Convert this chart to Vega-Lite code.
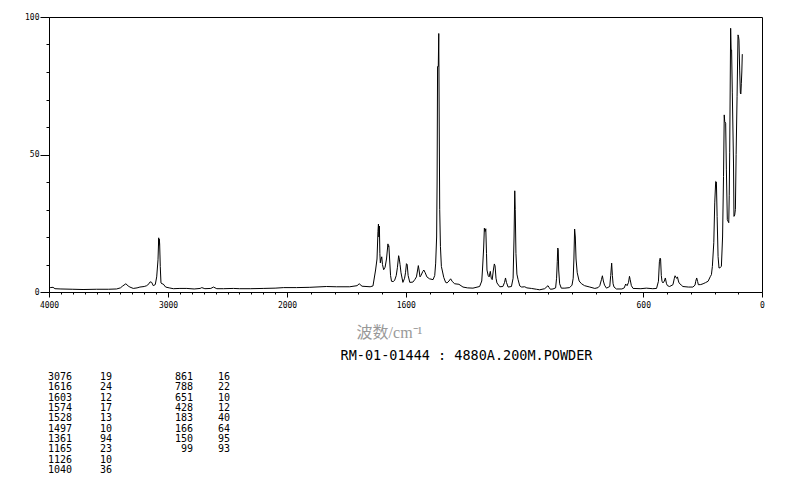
{
  "$schema": "https://vega.github.io/schema/vega-lite/v6.json",
  "width": 713,
  "height": 275,
  "autosize": {"type": "none"},
  "padding": {"left": 49, "top": 17, "right": 32, "bottom": 190},
  "background": "white",
  "config": {
    "view": {"stroke": "black", "strokeWidth": 1},
    "axis": {"grid": false, "domainColor": "black", "tickColor": "black", "labelColor": "black", "labelFont": "DejaVu Sans Mono", "labelFontSize": 8, "labelFlush": false, "labelOverlap": false}
  },
  "datasets": {
    "spectrum": [
      {"wn": 3998, "i": 1.5}, {"wn": 3990, "i": 1.6}, {"wn": 3966, "i": 1.7}, {"wn": 3950, "i": 1.2}, {"wn": 3900, "i": 1.1},
      {"wn": 3800, "i": 1.0}, {"wn": 3714, "i": 0.9}, {"wn": 3600, "i": 1.0}, {"wn": 3500, "i": 1.0}, {"wn": 3432, "i": 1.1},
      {"wn": 3400, "i": 1.5}, {"wn": 3380, "i": 2.2}, {"wn": 3354, "i": 3.0}, {"wn": 3335, "i": 2.2}, {"wn": 3320, "i": 1.8},
      {"wn": 3292, "i": 1.3}, {"wn": 3260, "i": 1.5}, {"wn": 3236, "i": 1.8}, {"wn": 3200, "i": 2.0}, {"wn": 3179, "i": 2.3},
      {"wn": 3160, "i": 3.0}, {"wn": 3150, "i": 3.7}, {"wn": 3137, "i": 3.5}, {"wn": 3124, "i": 2.3}, {"wn": 3107, "i": 2.7},
      {"wn": 3095, "i": 5.5}, {"wn": 3084, "i": 11.7}, {"wn": 3078, "i": 19.7}, {"wn": 3076, "i": 17}, {"wn": 3073, "i": 19.2},
      {"wn": 3070, "i": 17.4}, {"wn": 3065, "i": 9.3}, {"wn": 3059, "i": 3.3}, {"wn": 3050, "i": 3.0}, {"wn": 3040, "i": 2.9},
      {"wn": 3020, "i": 1.8}, {"wn": 2990, "i": 1.5}, {"wn": 2955, "i": 1.2}, {"wn": 2900, "i": 1.3}, {"wn": 2842, "i": 1.3},
      {"wn": 2780, "i": 1.1}, {"wn": 2730, "i": 1.3}, {"wn": 2716, "i": 1.6}, {"wn": 2690, "i": 1.2}, {"wn": 2640, "i": 1.3},
      {"wn": 2618, "i": 1.8}, {"wn": 2590, "i": 1.2}, {"wn": 2534, "i": 1.2}, {"wn": 2450, "i": 1.3}, {"wn": 2400, "i": 1.2},
      {"wn": 2309, "i": 1.2}, {"wn": 2200, "i": 1.3}, {"wn": 2100, "i": 1.4}, {"wn": 2028, "i": 1.6}, {"wn": 1960, "i": 1.6},
      {"wn": 1904, "i": 1.7}, {"wn": 1834, "i": 2.0}, {"wn": 1792, "i": 1.9}, {"wn": 1736, "i": 1.9}, {"wn": 1705, "i": 2.3},
      {"wn": 1696, "i": 3.0}, {"wn": 1684, "i": 2.1}, {"wn": 1650, "i": 1.9}, {"wn": 1638, "i": 2.2}, {"wn": 1627, "i": 8},
      {"wn": 1621, "i": 12}, {"wn": 1617, "i": 22}, {"wn": 1615, "i": 24.7}, {"wn": 1613, "i": 20}, {"wn": 1611, "i": 24},
      {"wn": 1609, "i": 14}, {"wn": 1607, "i": 10.6}, {"wn": 1604, "i": 12}, {"wn": 1601, "i": 12.8}, {"wn": 1598, "i": 10},
      {"wn": 1593, "i": 8.1}, {"wn": 1587, "i": 9}, {"wn": 1581, "i": 12}, {"wn": 1575, "i": 17.5}, {"wn": 1573, "i": 16.5},
      {"wn": 1571, "i": 16.8}, {"wn": 1568, "i": 12}, {"wn": 1564, "i": 6}, {"wn": 1560, "i": 3.9}, {"wn": 1553, "i": 3.8},
      {"wn": 1547, "i": 4.2}, {"wn": 1540, "i": 6}, {"wn": 1535, "i": 9}, {"wn": 1530, "i": 13.2}, {"wn": 1528, "i": 12.5},
      {"wn": 1524, "i": 10}, {"wn": 1520, "i": 7}, {"wn": 1512, "i": 3.5}, {"wn": 1505, "i": 5}, {"wn": 1501, "i": 7},
      {"wn": 1497, "i": 10.3}, {"wn": 1494, "i": 10}, {"wn": 1490, "i": 6}, {"wn": 1483, "i": 3.5}, {"wn": 1470, "i": 3.6},
      {"wn": 1462, "i": 4.5}, {"wn": 1455, "i": 5.5}, {"wn": 1450, "i": 8}, {"wn": 1447, "i": 9.6}, {"wn": 1444, "i": 8},
      {"wn": 1440, "i": 5.5}, {"wn": 1436, "i": 6}, {"wn": 1428, "i": 7.5}, {"wn": 1424, "i": 8}, {"wn": 1418, "i": 7},
      {"wn": 1411, "i": 5.5}, {"wn": 1400, "i": 4.8}, {"wn": 1385, "i": 4.5}, {"wn": 1378, "i": 6}, {"wn": 1374, "i": 10.5},
      {"wn": 1370, "i": 20}, {"wn": 1368, "i": 40}, {"wn": 1366, "i": 82}, {"wn": 1363, "i": 82}, {"wn": 1361, "i": 94},
      {"wn": 1359, "i": 60}, {"wn": 1357, "i": 30}, {"wn": 1354, "i": 16.6}, {"wn": 1350, "i": 9.3}, {"wn": 1340, "i": 5.3},
      {"wn": 1332, "i": 3.5}, {"wn": 1326, "i": 3.3}, {"wn": 1318, "i": 4}, {"wn": 1311, "i": 4.8}, {"wn": 1304, "i": 3.8},
      {"wn": 1294, "i": 3.0}, {"wn": 1276, "i": 2.8}, {"wn": 1259, "i": 1.8}, {"wn": 1240, "i": 1.5}, {"wn": 1217, "i": 1.4},
      {"wn": 1189, "i": 2.0}, {"wn": 1180, "i": 4}, {"wn": 1177, "i": 8}, {"wn": 1172, "i": 16}, {"wn": 1169, "i": 23.2},
      {"wn": 1166, "i": 22}, {"wn": 1163, "i": 23}, {"wn": 1160, "i": 14}, {"wn": 1158, "i": 8}, {"wn": 1153, "i": 6},
      {"wn": 1149, "i": 5.5}, {"wn": 1144, "i": 7.5}, {"wn": 1140, "i": 5}, {"wn": 1136, "i": 4.5}, {"wn": 1131, "i": 8},
      {"wn": 1127, "i": 10.2}, {"wn": 1124, "i": 9.5}, {"wn": 1120, "i": 5}, {"wn": 1116, "i": 3.3}, {"wn": 1104, "i": 1.9},
      {"wn": 1091, "i": 2.0}, {"wn": 1084, "i": 3.5}, {"wn": 1080, "i": 5.1}, {"wn": 1076, "i": 3.5}, {"wn": 1069, "i": 1.8},
      {"wn": 1055, "i": 2.0}, {"wn": 1048, "i": 5}, {"wn": 1044, "i": 20}, {"wn": 1041, "i": 36.8}, {"wn": 1039, "i": 30},
      {"wn": 1036, "i": 14}, {"wn": 1032, "i": 6.5}, {"wn": 1027, "i": 4.5}, {"wn": 1020, "i": 2.2}, {"wn": 1012, "i": 1.8},
      {"wn": 999, "i": 1.9}, {"wn": 990, "i": 1.5}, {"wn": 971, "i": 1.3}, {"wn": 950, "i": 1.0}, {"wn": 936, "i": 0.8},
      {"wn": 915, "i": 1.2}, {"wn": 905, "i": 2.0}, {"wn": 901, "i": 2.3}, {"wn": 896, "i": 1.6}, {"wn": 891, "i": 1.0},
      {"wn": 880, "i": 1.1}, {"wn": 869, "i": 1.5}, {"wn": 865, "i": 5}, {"wn": 862, "i": 11}, {"wn": 860, "i": 16},
      {"wn": 858, "i": 15.5}, {"wn": 856, "i": 8}, {"wn": 852, "i": 3}, {"wn": 845, "i": 1.4}, {"wn": 830, "i": 1.4},
      {"wn": 810, "i": 1.6}, {"wn": 800, "i": 2.5}, {"wn": 795, "i": 5}, {"wn": 792, "i": 12}, {"wn": 789, "i": 22.9},
      {"wn": 786, "i": 20}, {"wn": 783, "i": 12}, {"wn": 778, "i": 7}, {"wn": 770, "i": 4}, {"wn": 760, "i": 3},
      {"wn": 747, "i": 2.3}, {"wn": 725, "i": 1.8}, {"wn": 704, "i": 1.3}, {"wn": 690, "i": 1.6}, {"wn": 683, "i": 2.3},
      {"wn": 676, "i": 4.5}, {"wn": 672, "i": 5.9}, {"wn": 668, "i": 4}, {"wn": 663, "i": 2.5}, {"wn": 655, "i": 1.4},
      {"wn": 641, "i": 2.0}, {"wn": 637, "i": 6}, {"wn": 633, "i": 10.5}, {"wn": 630, "i": 6}, {"wn": 627, "i": 3},
      {"wn": 623, "i": 1.8}, {"wn": 613, "i": 1.1}, {"wn": 590, "i": 1.1}, {"wn": 580, "i": 1.5}, {"wn": 574, "i": 2.9},
      {"wn": 568, "i": 2.3}, {"wn": 562, "i": 3.5}, {"wn": 558, "i": 5.7}, {"wn": 555, "i": 4.5}, {"wn": 550, "i": 2.3},
      {"wn": 543, "i": 1.3}, {"wn": 510, "i": 1.2}, {"wn": 487, "i": 1.4}, {"wn": 460, "i": 1.2}, {"wn": 444, "i": 1.3},
      {"wn": 436, "i": 3.9}, {"wn": 432, "i": 11}, {"wn": 429, "i": 12.3}, {"wn": 427, "i": 12}, {"wn": 424, "i": 6},
      {"wn": 421, "i": 3.9}, {"wn": 417, "i": 3.3}, {"wn": 411, "i": 4}, {"wn": 407, "i": 5.1}, {"wn": 402, "i": 3},
      {"wn": 398, "i": 2.3}, {"wn": 389, "i": 2.0}, {"wn": 375, "i": 2.65}, {"wn": 369, "i": 5}, {"wn": 366, "i": 5.9},
      {"wn": 362, "i": 5.2}, {"wn": 359, "i": 5.0}, {"wn": 356, "i": 5.5}, {"wn": 352, "i": 4}, {"wn": 349, "i": 3.3},
      {"wn": 340, "i": 2.5}, {"wn": 333, "i": 2.0}, {"wn": 310, "i": 1.8}, {"wn": 291, "i": 1.8}, {"wn": 282, "i": 2.5},
      {"wn": 279, "i": 3.9}, {"wn": 275, "i": 5.1}, {"wn": 271, "i": 3.8}, {"wn": 268, "i": 2.65}, {"wn": 258, "i": 2.7},
      {"wn": 248, "i": 3.0}, {"wn": 238, "i": 3.4}, {"wn": 227, "i": 3.9}, {"wn": 217, "i": 5.7}, {"wn": 213, "i": 6.3},
      {"wn": 209, "i": 9.3}, {"wn": 203, "i": 17.9}, {"wn": 199, "i": 32.4}, {"wn": 195, "i": 40.2}, {"wn": 192, "i": 40},
      {"wn": 189, "i": 27.5}, {"wn": 185, "i": 12.9}, {"wn": 181, "i": 8.7}, {"wn": 176, "i": 8.9}, {"wn": 171, "i": 9.3},
      {"wn": 166, "i": 20}, {"wn": 162, "i": 42}, {"wn": 159, "i": 64.4}, {"wn": 157, "i": 62}, {"wn": 153, "i": 61.4},
      {"wn": 150, "i": 44.4}, {"wn": 146, "i": 26.3}, {"wn": 140, "i": 25.2}, {"wn": 138, "i": 35}, {"wn": 136, "i": 50.6},
      {"wn": 132, "i": 95.9}, {"wn": 130, "i": 88}, {"wn": 128, "i": 88}, {"wn": 125, "i": 72.4}, {"wn": 120, "i": 46.9},
      {"wn": 118, "i": 27.5}, {"wn": 115, "i": 28}, {"wn": 112, "i": 30}, {"wn": 109, "i": 50}, {"wn": 105, "i": 71},
      {"wn": 101, "i": 93.5}, {"wn": 99, "i": 93}, {"wn": 97, "i": 91.6}, {"wn": 94, "i": 80.7}, {"wn": 91, "i": 72.3},
      {"wn": 89, "i": 72}, {"wn": 87, "i": 75.9}, {"wn": 85, "i": 80}, {"wn": 83, "i": 86.5}
    ],
    "peaks": [
      {"peak": 3076, "intensity": 19, "col": "left", "row": 1},
      {"peak": 1616, "intensity": 24, "col": "left", "row": 2},
      {"peak": 1603, "intensity": 12, "col": "left", "row": 3},
      {"peak": 1574, "intensity": 17, "col": "left", "row": 4},
      {"peak": 1528, "intensity": 13, "col": "left", "row": 5},
      {"peak": 1497, "intensity": 10, "col": "left", "row": 6},
      {"peak": 1361, "intensity": 94, "col": "left", "row": 7},
      {"peak": 1165, "intensity": 23, "col": "left", "row": 8},
      {"peak": 1126, "intensity": 10, "col": "left", "row": 9},
      {"peak": 1040, "intensity": 36, "col": "left", "row": 10},
      {"peak": 861, "intensity": 16, "col": "right", "row": 1},
      {"peak": 788, "intensity": 22, "col": "right", "row": 2},
      {"peak": 651, "intensity": 10, "col": "right", "row": 3},
      {"peak": 428, "intensity": 12, "col": "right", "row": 4},
      {"peak": 183, "intensity": 40, "col": "right", "row": 5},
      {"peak": 166, "intensity": 64, "col": "right", "row": 6},
      {"peak": 150, "intensity": 95, "col": "right", "row": 7},
      {"peak": 99, "intensity": 93, "col": "right", "row": 8}
    ]
  },
  "layer": [
    {
      "data": {"name": "spectrum"},
      "mark": {"type": "line", "color": "black", "strokeWidth": 1, "interpolate": "linear"},
      "encoding": {
        "x": {
          "field": "wn", "type": "quantitative",
          "scale": {"domain": [4000, 2000, 0], "range": [0, 238, 713], "nice": false, "zero": false},
          "axis": {
            "orient": "bottom",
            "values": [4000, 3900, 3800, 3700, 3600, 3500, 3400, 3300, 3200, 3100, 3000, 2900, 2800, 2700, 2600, 2500, 2400, 2300, 2200, 2100, 2000, 1900, 1800, 1700, 1600, 1500, 1400, 1300, 1200, 1100, 1000, 900, 800, 700, 600, 500, 400, 300, 200, 100, 0],
            "labelExpr": "datum.value == 4000 ? '4000' : datum.value == 3000 ? '3000' : datum.value == 2000 ? '2000' : datum.value == 1500 ? '1600' : datum.value == 500 ? '600' : datum.value == 0 ? '0' : ''",
            "tickSize": {"condition": {"test": "datum.value == 4000 || datum.value == 3000 || datum.value == 2000 || datum.value == 1500 || datum.value == 500 || datum.value == 0", "value": 5}, "value": 2},
            "labelPadding": 4,
            "title": "波数/cm⁻¹",
            "titleFont": "'Liberation Serif', 'Noto Sans CJK SC'",
            "titleFontSize": 16,
            "titleFontWeight": "normal",
            "titleColor": "#999999",
            "titleX": 340,
            "titleY": 40,
            "titleAlign": "center",
            "titleBaseline": "middle"
          }
        },
        "y": {
          "field": "i", "type": "quantitative",
          "scale": {"domain": [0, 100], "nice": false},
          "axis": {
            "values": [0, 10, 20, 30, 40, 50, 60, 70, 80, 90, 100],
            "labelExpr": "datum.value % 50 == 0 ? datum.label : ''",
            "tickSize": {"condition": {"test": "datum.value % 50 == 0", "value": 9}, "value": 3},
            "labelPadding": 1,
            "title": null
          }
        }
      }
    },
    {
      "data": {"name": "peaks"},
      "mark": {"type": "text", "align": "right", "baseline": "middle", "font": "DejaVu Sans Mono", "fontSize": 10, "color": "black"},
      "encoding": {
        "x": {
          "field": "col", "type": "nominal",
          "scale": {"type": "point", "domain": ["left", "right"], "range": [23, 144], "padding": 0},
          "axis": {
            "orient": "bottom",
            "domain": false, "ticks": false, "labels": false,
            "title": "RM-01-01444 : 4880A.200M.POWDER",
            "titleFont": "DejaVu Sans Mono",
            "titleFontSize": 13.5,
            "titleFontWeight": "normal",
            "titleColor": "black",
            "titleX": 291,
            "titleY": 63,
            "titleAlign": "left",
            "titleBaseline": "middle"
          }
        },
        "y": {"field": "row", "type": "ordinal", "scale": {"type": "point", "range": [360, 453], "padding": 0}, "axis": null},
        "text": {"field": "peak", "type": "quantitative", "format": "d"}
      }
    },
    {
      "data": {"name": "peaks"},
      "mark": {"type": "text", "align": "left", "baseline": "middle", "font": "DejaVu Sans Mono", "fontSize": 10, "color": "black"},
      "encoding": {
        "x": {"field": "col", "type": "nominal", "scale": {"type": "point", "domain": ["left", "right"], "range": [51, 169], "padding": 0}, "axis": null},
        "y": {"field": "row", "type": "ordinal", "scale": {"type": "point", "range": [360, 453], "padding": 0}, "axis": null},
        "text": {"field": "intensity", "type": "quantitative", "format": "d"}
      }
    }
  ],
  "resolve": {"scale": {"x": "independent", "y": "independent"}}
}
